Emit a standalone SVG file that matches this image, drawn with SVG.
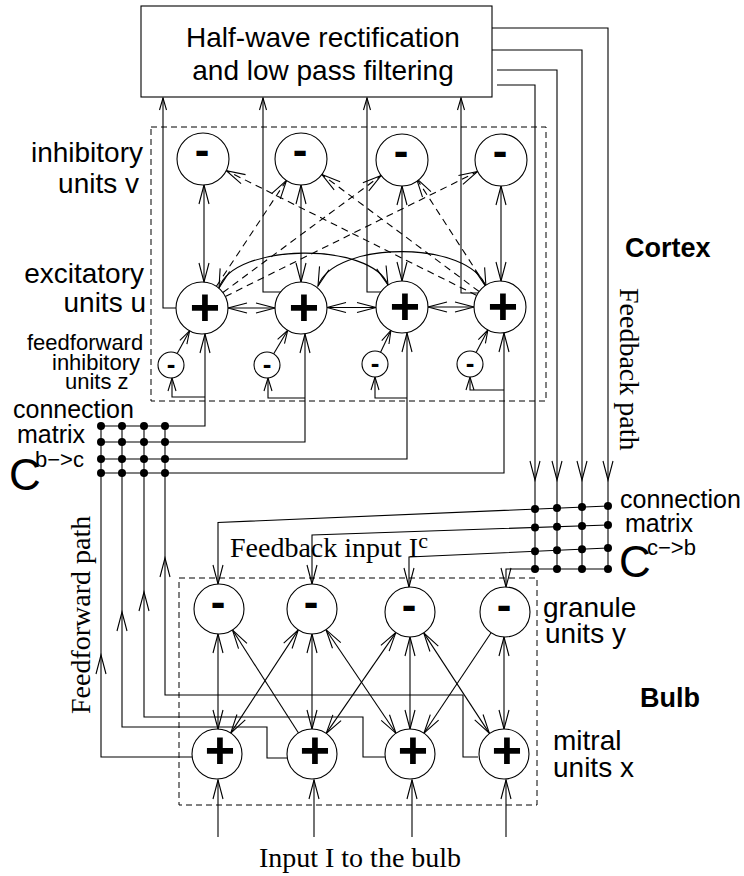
<svg xmlns="http://www.w3.org/2000/svg" width="744" height="876" viewBox="0 0 744 876">
<defs>
<style>
.ln{fill:none;stroke:#000;stroke-width:1.1}
.dsh{fill:none;stroke:#000;stroke-width:1.1;stroke-dasharray:7 5}
.frame{fill:none;stroke:#000;stroke-width:1;stroke-dasharray:6 4}
.a{marker-end:url(#ah)}
.aa{marker-start:url(#ah);marker-end:url(#ah)}
.as{marker-end:url(#ahs)}
.am{marker-end:url(#ahm)}
.unit{fill:#fff;stroke:#000;stroke-width:1.1}
.dot{fill:#000}
.sans{font-family:"Liberation Sans",Arial,sans-serif;fill:#000}
.serif{font-family:"Liberation Serif","Times New Roman",serif;fill:#000}
.plus{font-family:"Liberation Sans",Arial,sans-serif;font-weight:bold;text-anchor:middle;font-size:52px}
.minus{font-family:"Liberation Sans",Arial,sans-serif;font-weight:bold;text-anchor:middle;font-size:44px}
.minus-s{font-family:"Liberation Sans",Arial,sans-serif;font-weight:bold;text-anchor:middle;font-size:26px}
</style>
<marker id="ah" markerUnits="userSpaceOnUse" markerWidth="24" markerHeight="14" viewBox="-21 -7 24 14" refX="0" refY="0" orient="auto-start-reverse">
<path d="M-19,-5 L0,0 L-19,5" fill="none" stroke="#000" stroke-width="1.1"/>
</marker>
<marker id="ahm" markerUnits="userSpaceOnUse" markerWidth="18" markerHeight="12" viewBox="-15 -6 18 12" refX="0" refY="0" orient="auto-start-reverse">
<path d="M-13,-4 L0,0 L-13,4" fill="none" stroke="#000" stroke-width="1.1"/>
</marker>
<marker id="ahs" markerUnits="userSpaceOnUse" markerWidth="16" markerHeight="10" viewBox="-14 -5 16 10" refX="0" refY="0" orient="auto">
<path d="M-12,-3.5 L0,0 L-12,3.5" fill="none" stroke="#000" stroke-width="1.1"/>
</marker>
</defs>
<rect width="744" height="876" fill="#fff"/>

<!-- population frames -->
<g id="frames">
<rect class="frame" x="151" y="127" width="395" height="274"/>
<rect class="frame" x="179" y="578" width="358" height="227"/>
</g>

<g id="connectors">
<!-- excitatory outputs to the filter stage -->
<path class="ln as" d="M176,308 H163 V98"/>
<path class="ln as" d="M281,292 H263 V98"/>
<path class="ln as" d="M381,292 H367 V98"/>
<path class="ln as" d="M478,293 H461 V98"/>
<!-- feedback path down to C c->b -->
<path class="ln a" d="M492,28 H608 V480"/><path class="ln" d="M608,480 V569"/>
<path class="ln a" d="M492,50 H582 V480"/><path class="ln" d="M582,480 V569"/>
<path class="ln a" d="M497,70 H557 V480"/><path class="ln" d="M557,480 V569"/>
<path class="ln a" d="M497,85 H535 V480"/><path class="ln" d="M535,480 V569"/>
<!-- feedback input to granule units -->
<path class="ln a" d="M608,506 L218,522.5 V584"/>
<path class="ln a" d="M608,525 L312,535 V584"/>
<path class="ln a" d="M608,548 L409,557 V587"/>
<path class="ln a" d="M608,569 H506 V587"/>
<!-- cortex: v <-> u -->
<path class="ln aa" d="M204,185 V282"/>
<path class="ln aa" d="M301,185 V282"/>
<path class="ln aa" d="M402,186 V281"/>
<path class="ln aa" d="M501,186 V281"/>
<!-- cortex: lateral u <-> u -->
<path class="ln aa" d="M228,308 H275"/>
<path class="ln aa" d="M327,307.5 H376"/>
<path class="ln aa" d="M428,307 H474"/>
<path class="ln aa" d="M219,288 C234,242 372,242 388,285"/>
<path class="ln aa" d="M318,286 C334,240 470,240 486,287"/>
<!-- cortex: long range u -> v -->
<path class="dsh a" d="M216.4,286.3 L286.6,180.3"/>
<path class="dsh a" d="M222.9,292.5 L381.1,175.5"/>
<path class="dsh a" d="M225.3,296.5 L477.7,171.5"/>
<path class="dsh a" d="M476.7,295.4 L226.3,170.6"/>
<path class="dsh a" d="M479.1,291.5 L321.9,174.5"/>
<path class="dsh a" d="M485.6,285.4 L416.4,178.4"/>
<!-- C b->c rows into excitatory units -->
<path class="ln a" d="M101,426 H205 V334"/>
<path class="ln a" d="M101,442 H305 V334"/>
<path class="ln a" d="M101,459 H407 V333"/>
<path class="ln a" d="M101,473 H504 V333"/>
<!-- branches to feedforward inhibitory units -->
<path class="ln am" d="M205,397 H172 V378"/>
<path class="ln am" d="M305,398 H268 V378"/>
<path class="ln am" d="M407,398 H375 V377"/>
<path class="ln am" d="M504,390 H470 V377"/>
<!-- z -> u -->
<path class="ln am" d="M177.2,353.6 L189.6,330.8"/>
<path class="ln am" d="M273.7,353.8 L287.7,330.3"/>
<path class="ln am" d="M380.6,352.3 L390.9,330.5"/>
<path class="ln am" d="M476.1,352.5 L487.9,330"/>
<!-- feedforward path from mitral units -->
<path class="ln a" d="M192,757 H101 V655"/><path class="ln" d="M101,655 V426"/>
<path class="ln a" d="M287,758 H267 V727 H122 V612"/><path class="ln" d="M122,612 V426"/>
<path class="ln a" d="M385,757 H363 V717 H144 V592"/><path class="ln" d="M144,592 V426"/>
<path class="ln a" d="M478,757 H463 V695 H165 V558"/><path class="ln" d="M165,558 V426"/>
<!-- bulb: granule <-> mitral -->
<path class="ln aa" d="M218,634 V729"/>
<path class="ln aa" d="M312,634 V729"/>
<path class="ln aa" d="M410,637 V729"/>
<path class="ln aa" d="M504,637 V729"/>
<path class="ln a" d="M298.5,733 L232.5,630"/>
<path class="ln aa" d="M298.3,629.9 L230.7,733.1"/>
<path class="ln aa" d="M326,629.7 L396,733.3"/>
<path class="ln aa" d="M395.8,632.6 L326.2,733.4"/>
<path class="ln aa" d="M423.7,632.9 L489.3,733.1"/>
<path class="ln a" d="M491.1,632.8 L423.9,733.2"/>
<!-- external input -->
<path class="ln a" d="M218,837 V780"/>
<path class="ln a" d="M314,837 V780"/>
<path class="ln a" d="M412,837 V780"/>
<path class="ln a" d="M506,837 V780"/>
</g>

<g id="filter">
<rect x="141" y="6" width="351" height="91" fill="#fff" stroke="#000" stroke-width="1.1"/>
<text class="sans" x="323" y="47" font-size="28" text-anchor="middle">Half-wave rectification</text>
<text class="sans" x="323" y="80" font-size="28" text-anchor="middle">and low pass filtering</text>
</g>

<!-- cortex inhibitory units v -->
<g id="v1"><circle class="unit" cx="203" cy="159" r="26"/><text class="minus" x="202" y="164.5">-</text></g>
<g id="v2"><circle class="unit" cx="301" cy="159" r="26"/><text class="minus" x="300" y="164.5">-</text></g>
<g id="v3"><circle class="unit" cx="402" cy="160" r="26"/><text class="minus" x="401" y="165.5">-</text></g>
<g id="v4"><circle class="unit" cx="501" cy="160" r="26"/><text class="minus" x="500" y="165.5">-</text></g>
<!-- cortex excitatory units u -->
<g id="u1"><circle class="unit" cx="202" cy="308" r="26"/><text class="plus" x="205" y="325">+</text></g>
<g id="u2"><circle class="unit" cx="301" cy="308" r="26"/><text class="plus" x="304" y="325">+</text></g>
<g id="u3"><circle class="unit" cx="402" cy="307" r="26"/><text class="plus" x="405" y="324">+</text></g>
<g id="u4"><circle class="unit" cx="500" cy="307" r="26"/><text class="plus" x="503" y="324">+</text></g>
<!-- feedforward inhibitory units z -->
<g id="z1"><circle class="unit" cx="171" cy="365" r="13"/><text class="minus-s" x="171" y="373">-</text></g>
<g id="z2"><circle class="unit" cx="267" cy="365" r="13"/><text class="minus-s" x="267" y="373">-</text></g>
<g id="z3"><circle class="unit" cx="375" cy="364" r="13"/><text class="minus-s" x="375" y="372">-</text></g>
<g id="z4"><circle class="unit" cx="470" cy="364" r="13"/><text class="minus-s" x="470" y="372">-</text></g>
<!-- bulb granule units y -->
<g id="g1"><circle class="unit" cx="219" cy="609" r="25"/><text class="minus" x="218" y="617">-</text></g>
<g id="g2"><circle class="unit" cx="312" cy="609" r="25"/><text class="minus" x="311" y="617">-</text></g>
<g id="g3"><circle class="unit" cx="410" cy="612" r="25"/><text class="minus" x="409" y="620">-</text></g>
<g id="g4"><circle class="unit" cx="505" cy="612" r="25"/><text class="minus" x="504" y="620">-</text></g>
<!-- bulb mitral units x -->
<g id="m1"><circle class="unit" cx="217" cy="754" r="25"/><text class="plus" x="220" y="768">+</text></g>
<g id="m2"><circle class="unit" cx="312" cy="754" r="25"/><text class="plus" x="315" y="768">+</text></g>
<g id="m3"><circle class="unit" cx="410" cy="754" r="25"/><text class="plus" x="413" y="768">+</text></g>
<g id="m4"><circle class="unit" cx="504" cy="754" r="25"/><text class="plus" x="507" y="768">+</text></g>

<!-- connection matrix C b->c -->
<g id="matrix-bc">
<circle class="dot" cx="101" cy="426" r="4"/><circle class="dot" cx="122" cy="426" r="4"/><circle class="dot" cx="144" cy="426" r="4"/><circle class="dot" cx="165" cy="426" r="4"/>
<circle class="dot" cx="101" cy="442" r="4"/><circle class="dot" cx="122" cy="442" r="4"/><circle class="dot" cx="144" cy="442" r="4"/><circle class="dot" cx="165" cy="442" r="4"/>
<circle class="dot" cx="101" cy="459" r="4"/><circle class="dot" cx="122" cy="459" r="4"/><circle class="dot" cx="144" cy="459" r="4"/><circle class="dot" cx="165" cy="459" r="4"/>
<circle class="dot" cx="101" cy="473" r="4"/><circle class="dot" cx="122" cy="473" r="4"/><circle class="dot" cx="144" cy="473" r="4"/><circle class="dot" cx="165" cy="473" r="4"/>
</g>
<!-- connection matrix C c->b -->
<g id="matrix-cb">
<circle class="dot" cx="535" cy="509" r="4"/><circle class="dot" cx="557" cy="508" r="4"/><circle class="dot" cx="582" cy="507" r="4"/><circle class="dot" cx="608" cy="506" r="4"/>
<circle class="dot" cx="535" cy="527.5" r="4"/><circle class="dot" cx="557" cy="526.7" r="4"/><circle class="dot" cx="582" cy="525.9" r="4"/><circle class="dot" cx="608" cy="525" r="4"/>
<circle class="dot" cx="535" cy="551.3" r="4"/><circle class="dot" cx="557" cy="550.3" r="4"/><circle class="dot" cx="582" cy="549.2" r="4"/><circle class="dot" cx="608" cy="548" r="4"/>
<circle class="dot" cx="535" cy="569" r="4"/><circle class="dot" cx="557" cy="569" r="4"/><circle class="dot" cx="582" cy="569" r="4"/><circle class="dot" cx="608" cy="569" r="4"/>
</g>

<g id="labels">
<text class="sans" font-size="28" x="143" y="162" text-anchor="end">inhibitory</text>
<text class="sans" font-size="28" x="139" y="193" text-anchor="end">units v</text>
<text class="sans" font-size="28" x="144" y="283" text-anchor="end">excitatory</text>
<text class="sans" font-size="28" x="146" y="312" text-anchor="end">units u</text>
<text class="sans" font-size="22" x="27" y="350">feedforward</text>
<text class="sans" font-size="22" x="52" y="370">inhibitory</text>
<text class="sans" font-size="22" x="65" y="389">units z</text>
<text class="sans" font-size="25" x="13" y="418">connection</text>
<text class="sans" font-size="25" x="17" y="443">matrix</text>
<text class="sans" font-size="44" x="9" y="490">C</text>
<text class="sans" font-size="22" x="35" y="467">b−&gt;c</text>
<text class="sans" font-size="25" x="620" y="508">connection</text>
<text class="sans" font-size="25" x="625" y="532">matrix</text>
<text class="sans" font-size="44" x="619" y="577">C</text>
<text class="sans" font-size="22" x="647" y="555">c−&gt;b</text>
<text class="sans" font-size="27" font-weight="bold" x="625" y="257">Cortex</text>
<text class="sans" font-size="27" font-weight="bold" x="640" y="707">Bulb</text>
<text class="sans" font-size="28" x="543" y="617">granule</text>
<text class="sans" font-size="28" x="545" y="643">units y</text>
<text class="sans" font-size="28" x="553" y="750">mitral</text>
<text class="sans" font-size="28" x="553" y="777">units x</text>
<text class="serif" font-size="28" x="230" y="557">Feedback input I<tspan font-size="22" dy="-9">c</tspan></text>
<text class="serif" font-size="28" x="360" y="867" text-anchor="middle">Input I to the bulb</text>
<text class="serif" font-size="28" x="90" y="714" transform="rotate(-90 90 714)">Feedforward path</text>
<text class="serif" font-size="28" x="620" y="288" transform="rotate(90 620 288)">Feedback path</text>
</g>
</svg>
